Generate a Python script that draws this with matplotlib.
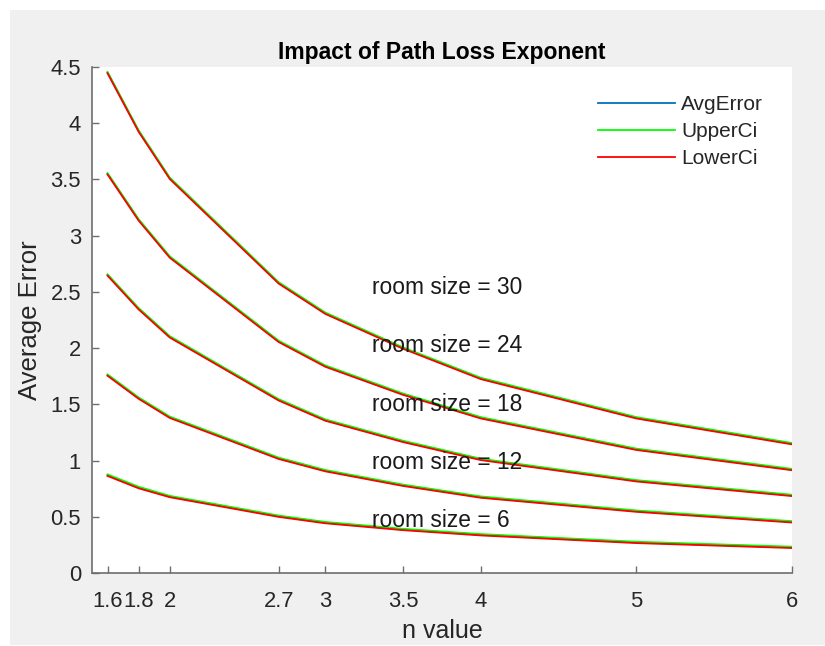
import matplotlib
matplotlib.use("Agg")
import matplotlib.pyplot as plt
from matplotlib.patches import Rectangle

plt.rcParams['font.family'] = ['Liberation Sans', 'DejaVu Sans']

# Path loss exponent values
n_values = [1.6, 1.8, 2, 2.7, 3, 3.5, 4, 5, 6]
n_tick_labels = ['1.6', '1.8', '2', '2.7', '3', '3.5', '4', '5', '6']

room_sizes = [30, 24, 18, 12, 6]

# Average localisation error per room size
avg_30 = [4.45, 3.93, 3.51, 2.58, 2.31, 2.00, 1.73, 1.38, 1.15]
avg_24 = [3.55, 3.14, 2.81, 2.06, 1.84, 1.59, 1.38, 1.10, 0.92]
avg_18 = [2.65, 2.35, 2.10, 1.54, 1.36, 1.17, 1.01, 0.82, 0.69]
avg_12 = [1.76, 1.555, 1.385, 1.02, 0.91, 0.78, 0.675, 0.55, 0.455]
avg_6 = [0.87, 0.76, 0.68, 0.505, 0.448, 0.387, 0.34, 0.272, 0.228]

# Upper confidence bounds
upper_30 = [4.456, 3.936, 3.516, 2.586, 2.316, 2.006, 1.736, 1.386, 1.156]
upper_24 = [3.556, 3.146, 2.816, 2.066, 1.846, 1.596, 1.386, 1.106, 0.926]
upper_18 = [2.656, 2.356, 2.106, 1.546, 1.366, 1.176, 1.016, 0.826, 0.696]
upper_12 = [1.766, 1.561, 1.391, 1.026, 0.916, 0.786, 0.681, 0.556, 0.461]
upper_6 = [0.877, 0.767, 0.686, 0.511, 0.454, 0.393, 0.346, 0.278, 0.234]

# Lower confidence bounds
lower_30 = [4.444, 3.924, 3.504, 2.574, 2.304, 1.994, 1.724, 1.374, 1.144]
lower_24 = [3.544, 3.134, 2.804, 2.054, 1.834, 1.584, 1.374, 1.094, 0.914]
lower_18 = [2.644, 2.344, 2.094, 1.534, 1.354, 1.164, 1.004, 0.814, 0.684]
lower_12 = [1.754, 1.549, 1.379, 1.014, 0.904, 0.774, 0.669, 0.544, 0.449]
lower_6 = [0.863, 0.753, 0.674, 0.499, 0.442, 0.381, 0.334, 0.266, 0.222]

label_x = [3.3, 3.3, 3.3, 3.3, 3.3]
label_y = [2.54, 2.02, 1.50, 0.98, 0.47]

avg_series = [avg_30, avg_24, avg_18, avg_12, avg_6]
upper_series = [upper_30, upper_24, upper_18, upper_12, upper_6]
lower_series = [lower_30, lower_24, lower_18, lower_12, lower_6]

W, H = 825, 646
fig = plt.figure(figsize=(W / 100, H / 100), dpi=100)
fig.patch.set_facecolor('white')
fig.patches.append(Rectangle((10 / W, 1 / H), 1 - 10 / W, (H - 11) / H,
                             transform=fig.transFigure, facecolor='#f0f0f0',
                             edgecolor='none', zorder=-10))

ax_left, ax_right, ax_top, ax_bottom = 92, 792, 67, 573
ax = fig.add_axes([ax_left / W, 1 - ax_bottom / H,
                   (ax_right - ax_left) / W, (ax_bottom - ax_top) / H])
ax.set_facecolor('white')

blue = '#0072BD'
green = '#00FF00'
red = '#FF0000'
for i, (a, u, l) in enumerate(zip(avg_series, upper_series, lower_series)):
    ax.plot(n_values, a, color=blue, lw=1.3, label='AvgError' if i == 0 else None)
    ax.plot(n_values, u, color=green, lw=1.3, label='UpperCi' if i == 0 else None)
    ax.plot(n_values, l, color=red, lw=1.3, label='LowerCi' if i == 0 else None)

for size, tx, ty in zip(room_sizes, label_x, label_y):
    ax.text(tx, ty, f'room size = {size}', fontsize=16.4, color='#1a1a1a',
            va='center', ha='left')

ax.set_xlim(1.5, 6)
ax.set_ylim(0, 4.5)
ax.set_xticks(n_values)
ax.set_xticklabels(n_tick_labels)
y_ticks = [0, 0.5, 1, 1.5, 2, 2.5, 3, 3.5, 4, 4.5]
ax.set_yticks(y_ticks)
ax.set_yticklabels(['0', '0.5', '1', '1.5', '2', '2.5', '3', '3.5', '4', '4.5'])

axis_color = '#6e6e6e'
for side in ['top', 'right']:
    ax.spines[side].set_visible(False)
for side in ['left', 'bottom']:
    ax.spines[side].set_color(axis_color)
    ax.spines[side].set_linewidth(1.2)
ax.tick_params(axis='both', direction='in', length=5, width=1.0,
               color=axis_color, labelcolor='#262626', labelsize=15.8)
ax.tick_params(axis='x', pad=13)
ax.tick_params(axis='y', pad=8)

ax.set_xlabel('n value', fontsize=18, color='#262626', labelpad=5)
ax.set_ylabel('Average Error', fontsize=18.5, color='#262626', labelpad=6)
ax.set_title('Impact of Path Loss Exponent', fontsize=16.5, fontweight='bold',
             color='#000000', pad=6)

leg = ax.legend(loc='upper left', bbox_to_anchor=(0.723, 0.944), frameon=False,
                fontsize=15, handlelength=3.7, handletextpad=0.3,
                labelspacing=0.38, borderpad=0, borderaxespad=0)
for t in leg.get_texts():
    t.set_color('#262626')

fig.savefig('out.png', dpi=100, facecolor=fig.get_facecolor())
